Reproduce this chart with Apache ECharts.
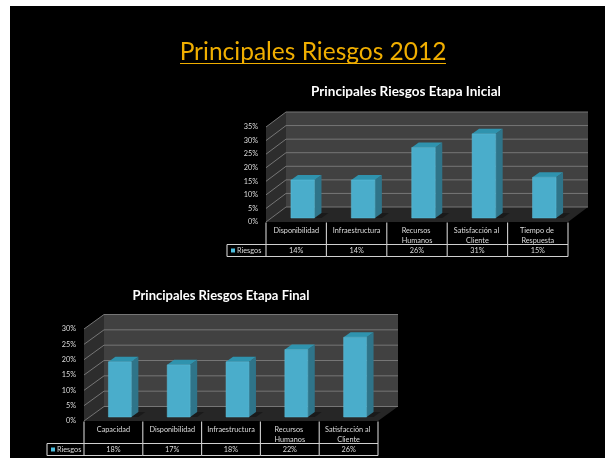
<!DOCTYPE html>
<html><head><meta charset="utf-8">
<style>html,body{margin:0;padding:0;background:#fff}#c{position:absolute;left:10px;top:6px;width:595px;height:452px;overflow:hidden;background:#000}
#m{position:absolute;left:-10px;top:-6px;width:605px;height:458px;filter:blur(0.55px)}</style>
<script src="https://cdn.jsdelivr.net/npm/echarts@6/dist/echarts.min.js"></script>
</head><body><div id="c"><div id="m"></div></div>
<script>
const pageTitle = 'Principales Riesgos 2012';
const seriesName = 'Riesgos';

const initialTitle = 'Principales Riesgos Etapa Inicial';
const initialCategories = ['Disponibilidad', 'Infraestructura', 'Recursos Humanos', 'Satisfacción al Cliente', 'Tiempo de Respuesta'];
const initialValues = [14, 14, 26, 31, 15];
const initialTicks = [0, 5, 10, 15, 20, 25, 30, 35];

const finalTitle = 'Principales Riesgos Etapa Final';
const finalCategories = ['Capacidad', 'Disponibilidad', 'Infraestructura', 'Recursos Humanos', 'Satisfacción al Cliente'];
const finalValues = [18, 17, 18, 22, 26];
const finalTicks = [0, 5, 10, 15, 20, 25, 30];

const FONT = 'Lato, "Open Sans", sans-serif';
const C = {wall:'#414141', side:'#2d2d2d', floor:'#262626', grid:'#767676', front:'#4aadcb', right:'#2f7489', top:'#2f93ae', line:'#d0d0d0', text:'#dcdcdc'};

const layouts = [
  {left:266, top:127, width:302, height:95, dx:20, dy:15, row1:22, row2:34, legendW:39, titleX:401, titleY:80, titleSize:13.5},
  {left:84,  top:329, width:294, height:92, dx:20, dy:14.5, row1:22, row2:34, legendW:37, titleX:216, titleY:284, titleSize:13}
];

function buildChart(i, title, cats, vals, ticks) {
  const L = layouts[i];
  const grid = {left:L.left, top:L.top, width:L.width, height:L.height};
  const xAxis = {gridIndex:i, type:'category', data:cats, axisLine:{show:false}, axisTick:{show:false}, splitLine:{show:false},
    axisLabel:{interval:0, color:C.text, fontFamily:FONT, fontSize:7.3, lineHeight:9.5, margin:4, width:56, overflow:'break'}};
  const yAxis = {gridIndex:i, type:'value', min:0, max:ticks[ticks.length-1], interval:5, axisLine:{show:false}, axisTick:{show:false}, splitLine:{show:false},
    axisLabel:{color:C.text, fontFamily:FONT, fontSize:7.3, margin:8, formatter:'{value}%'}};

  const frame = {type:'custom', xAxisIndex:i, yAxisIndex:i, silent:true, z:1, clip:false, data:ticks.map(t=>[0,t]),
    encode:{x:0,y:1},
    renderItem(p, api){
      const y = api.coord([0, api.value(1)])[1];
      const x0 = L.left, x1 = L.left + L.width, dx = L.dx, dy = L.dy;
      const children = [];
      if (p.dataIndex === 0) {
        const yTop = L.top, yBot = L.top + L.height;
        children.push(
          {type:'polygon', shape:{points:[[x0+dx,yTop-dy],[x1+dx,yTop-dy],[x1+dx,yBot-dy],[x0+dx,yBot-dy]]}, style:{fill:C.wall}},
          {type:'polygon', shape:{points:[[x0,yTop],[x0+dx,yTop-dy],[x0+dx,yBot-dy],[x0,yBot]]}, style:{fill:C.side}},
          {type:'polygon', shape:{points:[[x0,yBot],[x0+dx,yBot-dy],[x1+dx,yBot-dy],[x1,yBot]]}, style:{fill:C.floor}}
        );
      }
      children.push(
        {type:'line', shape:{x1:x0,y1:y,x2:x0+dx,y2:y-dy}, style:{stroke:C.grid,lineWidth:1}},
        {type:'line', shape:{x1:x0+dx,y1:y-dy,x2:x1+dx,y2:y-dy}, style:{stroke:C.grid,lineWidth:1}}
      );
      return {type:'group', children};
    }};

  const bars = {type:'custom', name:seriesName, xAxisIndex:i, yAxisIndex:i, z:3, clip:false, data:vals.map((v,k)=>[k,v]),
    encode:{x:0,y:1},
    renderItem(p, api){
      const t = api.coord([api.value(0), api.value(1)]);
      const b = api.coord([api.value(0), 0]);
      const w = api.size([1,0])[0]*0.39, ox = 6.5, oy = 4, sx = 7, sy = 5;
      const l = t[0]-w/2+ox, r = t[0]+w/2+ox, yt = t[1]-oy, yb = b[1]-oy;
      return {type:'group', children:[
        {type:'polygon', shape:{points:[[r,yb],[r+sx,yb-sy],[r+sx+7,yb-sy],[r+7,yb]]}, style:{fill:'#1a1a1a'}},
        {type:'polygon', shape:{points:[[r,yt],[r+sx,yt-sy],[r+sx,yb-sy],[r,yb]]}, style:{fill:C.right}},
        {type:'polygon', shape:{points:[[l,yt],[l+sx,yt-sy],[r+sx,yt-sy],[r,yt]]}, style:{fill:C.top}},
        {type:'rect', shape:{x:l,y:yt,width:w,height:yb-yt}, style:{fill:C.front, stroke:'#5fc0dc', lineWidth:0.5}}
      ]};
    }};

  const table = {type:'custom', xAxisIndex:i, yAxisIndex:i, z:4, silent:true, clip:false, data:vals.map((v,k)=>[k,v]),
    encode:{x:0,y:1},
    renderItem(p, api){
      const c = api.coord([api.value(0), 0]);
      const bw = api.size([1,0])[0];
      const l = c[0]-bw/2, y0 = c[1]+0.5, y1 = y0+L.row1, y2 = y0+L.row2;
      const ln = (a,b,d,e)=>({type:'line', shape:{x1:a,y1:b,x2:d,y2:e}, style:{stroke:C.line,lineWidth:1.1}});
      const ch = [ln(l+bw,y0,l+bw,y2), ln(l,y1,l+bw,y1), ln(l,y2,l+bw,y2),
        {type:'text', style:{x:c[0], y:(y1+y2)/2, text:api.value(1)+'%', fill:C.text, font:'7.3px '+FONT, align:'center', verticalAlign:'middle'}}];
      if (p.dataIndex === 0) {
        const e = l - L.legendW;
        ch.push(ln(l,y0,l,y2), ln(e,y1,l,y1), ln(e,y2,l,y2), ln(e,y1,e,y2),
          {type:'rect', shape:{x:e+4,y:(y1+y2)/2-2,width:4,height:4}, style:{fill:'#4fc0e0'}},
          {type:'text', style:{x:e+10, y:(y1+y2)/2, text:seriesName, fill:C.text, font:'7.3px '+FONT, align:'left', verticalAlign:'middle'}});
      }
      return {type:'group', children:ch};
    }};

  return {grid, xAxis, yAxis, series:[frame, bars, table],
    title:{text:title, left:L.titleX, top:L.titleY, textAlign:'center',
      textStyle:{color:'#fff', fontFamily:FONT, fontWeight:'bold', fontSize:L.titleSize}}};
}

const a = buildChart(0, initialTitle, initialCategories, initialValues, initialTicks);
const b = buildChart(1, finalTitle, finalCategories, finalValues, finalTicks);

const chart = echarts.init(document.getElementById('m'), null, {renderer:'canvas', width:605, height:458});
chart.setOption({
  animation:false,
  backgroundColor:'transparent',
  title:[{text:pageTitle, left:308, top:35, textAlign:'center', textStyle:{color:'#f0ae00', fontFamily:FONT, fontWeight:'normal', fontSize:24.5}}, a.title, b.title],
  grid:[a.grid, b.grid], xAxis:[a.xAxis, b.xAxis], yAxis:[a.yAxis, b.yAxis],
  series:[...a.series, ...b.series],
  graphic:[{type:'line', shape:{x1:180,y1:63.5,x2:446,y2:63.5}, style:{stroke:'#f0ae00',lineWidth:1.2}}]
});
</script></body></html>
